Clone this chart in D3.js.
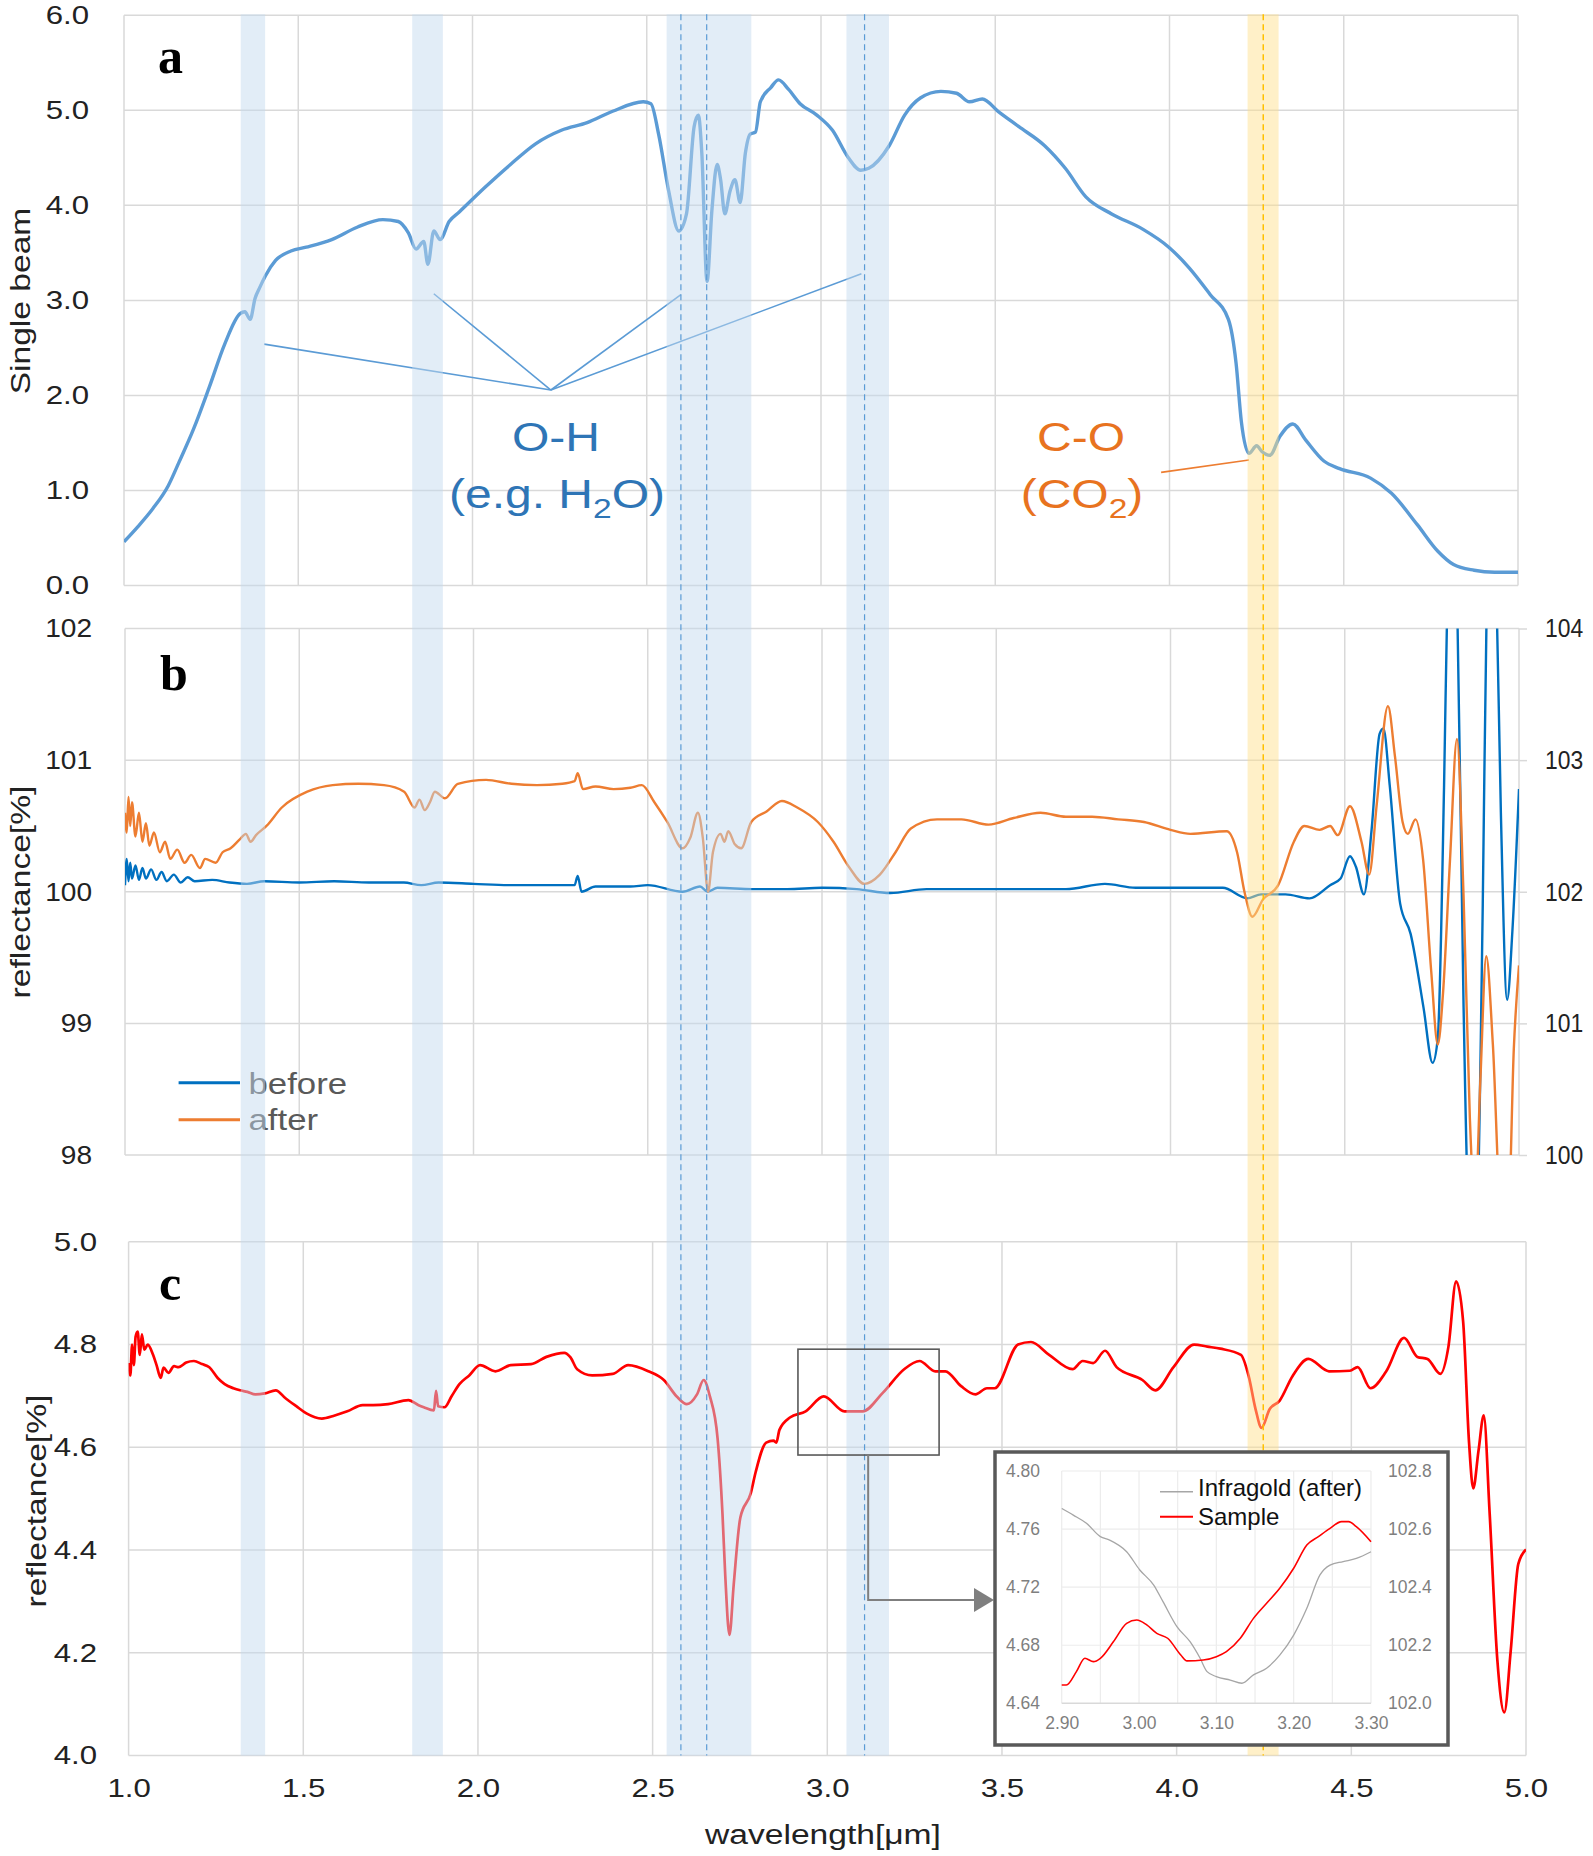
<!DOCTYPE html>
<html><head><meta charset="utf-8">
<script src="https://cdn.jsdelivr.net/npm/d3@7"></script>
<style>body{margin:0;background:#fff}svg{display:block}</style>
</head><body>
<svg id="chart" width="1593" height="1856"></svg>
<script>
// ---------------- DATA ----------------
const xTicks = [1.0,1.5,2.0,2.5,3.0,3.5,4.0,4.5,5.0];
const aTicks = [0,1,2,3,4,5,6];
const bTicksLeft = [98,99,100,101,102];
const bTicksRight = [100,101,102,103,104];
const cTicks = [4.0,4.2,4.4,4.6,4.8,5.0];
const insetXTicks = [2.90,3.00,3.10,3.20,3.30];
const insetXGrid = [2.90,2.95,3.00,3.05,3.10,3.15,3.20,3.25,3.30];
const insetYTicks = [4.64,4.68,4.72,4.76,4.80];
const insetY2Ticks = [102.0,102.2,102.4,102.6,102.8];

// absorption bands (µm)
const blueBands = [[1.335,1.405],[1.827,1.915],[2.557,2.80],[3.073,3.195]];
const yellowBands = [[4.224,4.313]];
const blueDash = [2.598,2.672,3.125];
const yellowDash = [4.269];

// panel a: single beam
const aWave = [1.000,1.04,1.083,1.127,1.157,1.2,1.245,1.289,1.333,1.347,1.362,1.376,1.39,1.406,1.435,1.479,1.523,1.596,1.669,1.743,1.787,1.816,1.838,1.86,1.872,1.889,1.907,1.933,1.962,2.036,2.109,2.182,2.255,2.329,2.402,2.49,2.512,2.534,2.563,2.592,2.614,2.636,2.648,2.658,2.673,2.687,2.702,2.712,2.724,2.739,2.753,2.768,2.783,2.797,2.812,2.826,2.856,2.878,2.907,2.94,2.988,3.033,3.077,3.114,3.137,3.196,3.24,3.285,3.344,3.389,3.426,3.463,3.508,3.567,3.641,3.701,3.76,3.834,3.923,3.998,4.057,4.117,4.169,4.191,4.206,4.228,4.25,4.265,4.288,4.317,4.354,4.391,4.443,4.488,4.577,4.637,4.711,4.77,4.815,4.874,4.933,5.0];
const aBeam = [0.46,0.62,0.81,1.05,1.29,1.65,2.09,2.54,2.86,2.88,2.80,3.02,3.14,3.26,3.42,3.52,3.56,3.64,3.77,3.85,3.83,3.71,3.54,3.62,3.38,3.73,3.64,3.83,3.93,4.19,4.43,4.65,4.79,4.87,4.99,5.09,5.07,4.75,4.15,3.73,3.91,4.83,4.95,4.55,3.2,3.95,4.43,4.27,3.91,4.15,4.27,4.03,4.55,4.75,4.77,5.09,5.24,5.32,5.22,5.07,4.95,4.79,4.51,4.37,4.39,4.63,4.95,5.13,5.20,5.18,5.09,5.12,4.99,4.83,4.63,4.39,4.09,3.91,3.75,3.56,3.34,3.06,2.80,2.34,1.73,1.39,1.47,1.41,1.37,1.57,1.70,1.53,1.31,1.23,1.13,0.97,0.64,0.36,0.22,0.16,0.14,0.14];

// panel b: before (left axis)
const bWaveBefore = [1.0,1.005,1.01,1.015,1.02,1.03,1.04,1.05,1.06,1.075,1.09,1.105,1.12,1.14,1.16,1.18,1.2,1.25,1.3,1.35,1.4,1.5,1.6,1.7,1.8,1.85,1.9,2.0,2.1,2.2,2.29,2.299,2.31,2.35,2.45,2.5,2.6,2.65,2.672,2.7,2.8,2.9,3.0,3.1,3.196,3.3,3.5,3.7,3.812,3.9,4.0,4.15,4.22,4.26,4.33,4.399,4.458,4.488,4.515,4.532,4.555,4.577,4.6,4.611,4.629,4.659,4.689,4.726,4.752,4.767,4.785,4.795,4.808,4.822,4.841,4.856,4.872,4.881,4.896,4.908,4.922,4.935,4.948,4.966,4.981,5.0];
const bBefore = [100.05,100.25,100.08,100.22,100.1,100.2,100.09,100.18,100.1,100.17,100.09,100.15,100.08,100.13,100.07,100.11,100.08,100.09,100.07,100.06,100.08,100.07,100.08,100.07,100.07,100.05,100.07,100.06,100.05,100.05,100.05,100.12,100.0,100.04,100.04,100.05,100.0,100.04,100.0,100.03,100.02,100.02,100.03,100.02,99.99,100.02,100.02,100.02,100.06,100.03,100.03,100.03,99.95,99.98,99.98,99.95,100.05,100.10,100.27,100.19,99.98,100.47,101.2,101.24,100.81,99.91,99.68,99.12,98.70,98.89,100.81,102.3,103,102.3,99.12,97.5,97.3,97.6,99.9,102.3,103,102.3,100.6,99.18,99.7,100.78];

// panel b: after (right axis)
const bWaveAfter = [1.0,1.005,1.01,1.015,1.02,1.03,1.04,1.05,1.06,1.07,1.083,1.1,1.115,1.13,1.15,1.171,1.19,1.215,1.23,1.26,1.28,1.303,1.33,1.347,1.36,1.376,1.406,1.45,1.523,1.596,1.669,1.743,1.801,1.831,1.845,1.86,1.875,1.889,1.918,1.955,2.036,2.109,2.182,2.255,2.29,2.299,2.314,2.35,2.402,2.45,2.483,2.519,2.556,2.6,2.622,2.644,2.658,2.673,2.687,2.709,2.72,2.731,2.75,2.768,2.797,2.841,2.885,2.929,2.988,3.033,3.077,3.122,3.166,3.211,3.255,3.33,3.4,3.478,3.55,3.627,3.7,3.775,3.85,3.924,4.0,4.057,4.161,4.191,4.213,4.235,4.265,4.309,4.354,4.384,4.428,4.458,4.48,4.515,4.548,4.57,4.592,4.624,4.644,4.666,4.681,4.703,4.725,4.748,4.767,4.782,4.802,4.822,4.841,4.859,4.874,4.889,4.906,4.925,4.948,4.97,4.985,5.0];
const bAfter = [102.6,102.45,102.72,102.5,102.68,102.42,102.6,102.38,102.52,102.35,102.45,102.3,102.38,102.25,102.32,102.22,102.28,102.18,102.25,102.22,102.3,102.33,102.4,102.44,102.38,102.43,102.50,102.64,102.76,102.81,102.82,102.81,102.76,102.64,102.70,102.62,102.68,102.76,102.71,102.82,102.85,102.82,102.81,102.82,102.84,102.9,102.78,102.8,102.78,102.79,102.81,102.68,102.53,102.33,102.41,102.60,102.41,102.0,102.3,102.44,102.38,102.46,102.36,102.33,102.53,102.61,102.69,102.64,102.53,102.38,102.19,102.06,102.13,102.3,102.48,102.55,102.55,102.51,102.56,102.6,102.57,102.57,102.55,102.53,102.47,102.44,102.46,102.3,101.99,101.81,101.94,102.05,102.38,102.5,102.47,102.5,102.43,102.65,102.38,102.13,102.67,103.41,103.03,102.53,102.44,102.55,102.24,101.4,100.84,101.23,102.24,103.16,101.96,100.28,99.6,100.56,101.51,100.84,99.6,99.6,100.8,101.44];

// panel c: sample reflectance
const cWave = [1.0,1.005,1.01,1.015,1.02,1.026,1.032,1.038,1.045,1.055,1.07,1.08,1.092,1.1,1.114,1.13,1.143,1.165,1.187,1.21,1.231,1.255,1.275,1.3,1.319,1.34,1.363,1.39,1.421,1.45,1.48,1.509,1.553,1.59,1.626,1.67,1.7,1.743,1.801,1.83,1.845,1.874,1.88,1.886,1.904,1.925,1.947,1.975,2.006,2.05,2.094,2.152,2.196,2.247,2.265,2.284,2.327,2.386,2.43,2.488,2.532,2.569,2.598,2.627,2.646,2.664,2.686,2.7,2.708,2.72,2.732,2.751,2.781,2.795,2.825,2.846,2.854,2.863,2.893,2.938,2.99,3.049,3.101,3.16,3.22,3.264,3.309,3.338,3.383,3.424,3.457,3.479,3.546,3.583,3.635,3.702,3.731,3.761,3.795,3.828,3.902,3.939,3.991,4.05,4.088,4.125,4.184,4.206,4.226,4.243,4.266,4.295,4.332,4.377,4.436,4.496,4.518,4.555,4.6,4.651,4.689,4.718,4.755,4.778,4.8,4.82,4.837,4.849,4.864,4.879,4.896,4.918,4.938,4.956,4.978,5.0];
const cRefl = [4.764,4.74,4.80,4.76,4.815,4.825,4.78,4.82,4.79,4.80,4.78,4.76,4.735,4.755,4.745,4.758,4.756,4.765,4.768,4.762,4.756,4.735,4.723,4.715,4.711,4.708,4.703,4.705,4.711,4.695,4.68,4.666,4.656,4.662,4.67,4.682,4.682,4.684,4.692,4.682,4.678,4.672,4.71,4.68,4.678,4.70,4.723,4.74,4.76,4.748,4.76,4.762,4.776,4.784,4.775,4.752,4.74,4.743,4.76,4.748,4.731,4.699,4.684,4.703,4.731,4.699,4.617,4.47,4.349,4.235,4.332,4.463,4.511,4.552,4.609,4.613,4.609,4.634,4.658,4.67,4.699,4.67,4.67,4.707,4.752,4.768,4.748,4.748,4.719,4.703,4.715,4.715,4.80,4.805,4.78,4.752,4.768,4.764,4.788,4.756,4.731,4.711,4.756,4.80,4.796,4.792,4.78,4.739,4.674,4.638,4.674,4.691,4.739,4.772,4.748,4.749,4.756,4.715,4.748,4.813,4.776,4.772,4.743,4.796,4.923,4.845,4.609,4.52,4.593,4.662,4.471,4.186,4.084,4.202,4.373,4.401];

// inset (2.9 - 3.3 µm)
const insetWave = [2.90,2.906,2.919,2.930,2.941,2.950,2.967,2.984,2.997,3.010,3.023,3.037,3.054,3.062,3.083,3.100,3.113,3.131,3.148,3.165,3.182,3.200,3.217,3.232,3.247,3.262,3.271,3.281,3.30];
const insetSample = [4.6526,4.6526,4.6618,4.671,4.6687,4.671,4.6825,4.6951,4.6974,4.694,4.6882,4.6848,4.6733,4.6692,4.6698,4.6721,4.6756,4.6848,4.6985,4.7089,4.7192,4.733,4.749,4.7548,4.7605,4.7651,4.7651,4.7617,4.7513];
const insetWaveGold = [2.90,2.915,2.932,2.950,2.962,2.984,3.001,3.019,3.031,3.049,3.066,3.079,3.088,3.100,3.118,3.133,3.148,3.165,3.182,3.200,3.217,3.234,3.247,3.264,3.281,3.30];
const insetGold = [102.671,102.648,102.62,102.574,102.562,102.522,102.459,102.407,102.35,102.264,102.212,102.155,102.109,102.092,102.08,102.069,102.098,102.121,102.166,102.235,102.327,102.442,102.476,102.488,102.499,102.522];
const zoomBoxWave = [2.916,3.32];
const zoomBoxRefl = [4.585,4.791];
const connectorWave = 3.117;

// ---------------- DRAW ----------------
const FONT = "'Liberation Sans', Arial, sans-serif";
const SX = 1.2;
const GRID = "#d9d9d9";
const svg = d3.select("#chart");
svg.append("rect").attr("width",1593).attr("height",1856).attr("fill","#fff");

const xA = d3.scaleLinear().domain([1,5]).range([124,1518]);
const yA = d3.scaleLinear().domain([0,6]).range([585.5,15.3]);
const xB = d3.scaleLinear().domain([1,5]).range([125,1519]);
const yB = d3.scaleLinear().domain([98,102]).range([1155,628.5]);
const yB2 = d3.scaleLinear().domain([100,104]).range([1155,628.5]);
const xC = d3.scaleLinear().domain([1,5]).range([128.6,1526]);
const yC = d3.scaleLinear().domain([4,5]).range([1755.6,1241.8]);

function grid(x, y, xs, ys, color, w){
  const g = svg.append("g");
  g.selectAll(null).data(xs).join("line")
    .attr("x1",d=>x(d)).attr("x2",d=>x(d)).attr("y1",y.range()[0]).attr("y2",y.range()[1])
    .attr("stroke",color).attr("stroke-width",w);
  g.selectAll(null).data(ys).join("line")
    .attr("x1",x.range()[0]).attr("x2",x.range()[1]).attr("y1",d=>y(d)).attr("y2",d=>y(d))
    .attr("stroke",color).attr("stroke-width",w);
  return g;
}
function clip(id, x, y){
  svg.append("clipPath").attr("id",id).append("rect")
    .attr("x",x.range()[0]).attr("y",y.range()[1])
    .attr("width",x.range()[1]-x.range()[0]).attr("height",y.range()[0]-y.range()[1]);
}
function series(xs, ys, x, y, color, w, clipId){
  const line = d3.line().x(i=>x(xs[i])).y(i=>y(ys[i])).curve(d3.curveMonotoneX);
  svg.append("path").attr("d", line(d3.range(xs.length)))
    .attr("fill","none").attr("stroke",color).attr("stroke-width",w)
    .attr("stroke-linejoin","round").attr("clip-path", clipId ? `url(#${clipId})` : null);
}
function styleAxis(g, size, fill, sx){
  g.select(".domain").remove();
  g.selectAll(".tick text").attr("font-family",FONT).attr("font-size",size).attr("fill",fill)
    .attr("transform",`scale(${sx},1)`);
}
function text(x, y, str, size, opts={}){
  const t = svg.append("text")
    .attr("transform",`translate(${x},${y})${opts.rotate?" rotate("+opts.rotate+")":""} scale(${opts.sx||SX},1)`)
    .attr("font-family",opts.family||FONT).attr("font-size",size)
    .attr("fill",opts.fill||"#222").attr("text-anchor",opts.anchor||"start")
    .attr("font-weight",opts.weight||"normal");
  if (opts.dy) t.attr("dy",opts.dy);
  if (str!==null) t.text(str);
  return t;
}

// grids
grid(xA, yA, xTicks, aTicks, GRID, 1.5);
grid(xB, yB, xTicks, bTicksLeft, GRID, 1.5);
grid(xC, yC, xTicks, cTicks, GRID, 1.5);

// axes
const fmt1 = d3.format(".1f");
svg.append("g").attr("transform",`translate(${xA.range()[0]},0)`)
  .call(d3.axisLeft(yA).tickValues(aTicks).tickSize(0).tickPadding(35/SX).tickFormat(fmt1))
  .call(g=>styleAxis(g,26,"#222",SX));
const SXB = 1.08, SXR = 0.88;
svg.append("g").attr("transform",`translate(${xB.range()[0]},0)`)
  .call(d3.axisLeft(yB).tickValues(bTicksLeft).tickSize(0).tickPadding(33/SXB).tickFormat(d3.format("d")))
  .call(g=>styleAxis(g,26,"#222",SXB));
const rAx = svg.append("g").attr("transform",`translate(${xB.range()[1]},0)`)
  .call(d3.axisRight(yB2).tickValues(bTicksRight).tickSize(8).tickPadding(26/SXR-8).tickFormat(d3.format("d")))
  .call(g=>styleAxis(g,26,"#222",SXR));
rAx.selectAll(".tick line").attr("stroke",GRID).attr("stroke-width",1.5);
svg.append("g").attr("transform",`translate(${xC.range()[0]},0)`)
  .call(d3.axisLeft(yC).tickValues(cTicks).tickSize(0).tickPadding(31.6/SX).tickFormat(fmt1))
  .call(g=>styleAxis(g,26,"#222",SX));
svg.append("g").attr("transform",`translate(0,${yC.range()[0]})`)
  .call(d3.axisBottom(xC).tickValues(xTicks).tickSize(0).tickPadding(23).tickFormat(fmt1))
  .call(g=>styleAxis(g,26,"#222",SX));

// axis titles
text(20, 301, "Single beam", 28, {rotate:-90, anchor:"middle", dy:"0.35em"});
text(20, 892, "reflectance[%]", 28, {rotate:-90, anchor:"middle", dy:"0.35em"});
text(36, 1501, "reflectance[%]", 28, {rotate:-90, anchor:"middle", dy:"0.35em"});
text(823, 1844, "wavelength[μm]", 28, {anchor:"middle"});

// panel labels
const serif = "'Liberation Serif','Times New Roman',serif";
text(158, 73, "a", 50, {family:serif, weight:"bold", fill:"#000", sx:1});
text(160, 690, "b", 50, {family:serif, weight:"bold", fill:"#000", sx:1});
text(159, 1300, "c", 50, {family:serif, weight:"bold", fill:"#000", sx:1});

// clip paths
clip("clipA", xA, yA); clip("clipB", xB, yB); clip("clipC", xC, yC);

// series
series(aWave, aBeam, xA, yA, "#5b9bd5", 3.4, "clipA");
series(bWaveBefore, bBefore, xB, yB, "#0070c0", 2.4, "clipB");
series(bWaveAfter, bAfter, xB, yB2, "#ed7d31", 2.4, "clipB");
series(cWave, cRefl, xC, yC, "#ff0000", 2.7, "clipC");

// annotations panel a
const ohApex = [2.225, 2.057];
const ohTargets = [[1.402,2.54],[1.889,3.07],[2.598,3.06],[3.116,3.28]];
svg.append("g").selectAll(null).data(ohTargets).join("line")
  .attr("x1",xA(ohApex[0])).attr("y1",yA(ohApex[1]))
  .attr("x2",d=>xA(d[0])).attr("y2",d=>yA(d[1]))
  .attr("stroke","#5b9bd5").attr("stroke-width",1.6);
const coLine = [[3.976,1.19],[4.228,1.32]];
svg.append("line").attr("x1",xA(coLine[0][0])).attr("y1",yA(coLine[0][1]))
  .attr("x2",xA(coLine[1][0])).attr("y2",yA(coLine[1][1]))
  .attr("stroke","#ed7d31").attr("stroke-width",1.6);

const OHC = "#2e75b6", COC = "#e8731f";
text(556, 451, "O-H", 40, {anchor:"middle", fill:OHC});
const t1 = text(557, 508, null, 40, {anchor:"middle", fill:OHC});
t1.append("tspan").text("(e.g. H");
t1.append("tspan").attr("font-size",28).attr("dy",10).text("2");
t1.append("tspan").attr("dy",-10).text("O)");
text(1081, 451, "C-O", 40, {anchor:"middle", fill:COC});
const t2 = text(1082, 508, null, 40, {anchor:"middle", fill:COC});
t2.append("tspan").text("(CO");
t2.append("tspan").attr("font-size",28).attr("dy",10).text("2");
t2.append("tspan").attr("dy",-10).text(")");

// legend panel b
const legB = [["before","#0070c0",1082.8,1094],["after","#ed7d31",1119.8,1130]];
legB.forEach(([name,col,ly,ty])=>{
  svg.append("line").attr("x1",178.6).attr("x2",240).attr("y1",ly).attr("y2",ly)
    .attr("stroke",col).attr("stroke-width",3);
  text(248.5, ty, name, 29, {fill:"#595959"});
});

// bands overlay
const bandTop = yA.range()[1]-1, bandBot = yC.range()[0];
svg.append("g").selectAll(null).data(blueBands).join("rect")
  .attr("x",d=>xA(d[0])).attr("width",d=>xA(d[1])-xA(d[0]))
  .attr("y",bandTop).attr("height",bandBot-bandTop)
  .attr("fill","rgb(194,217,238)").attr("fill-opacity",0.48);
svg.append("g").selectAll(null).data(yellowBands).join("rect")
  .attr("x",d=>xA(d[0])).attr("width",d=>xA(d[1])-xA(d[0]))
  .attr("y",bandTop).attr("height",bandBot-bandTop)
  .attr("fill","rgb(255,223,139)").attr("fill-opacity",0.48);
svg.append("g").selectAll(null).data(blueDash).join("line")
  .attr("x1",d=>xA(d)).attr("x2",d=>xA(d)).attr("y1",bandTop).attr("y2",bandBot)
  .attr("stroke","#5b9bd5").attr("stroke-width",1.2).attr("stroke-dasharray","6,4");
svg.append("g").selectAll(null).data(yellowDash).join("line")
  .attr("x1",d=>xA(d)).attr("x2",d=>xA(d)).attr("y1",bandTop).attr("y2",bandBot)
  .attr("stroke","#ffc000").attr("stroke-width",1.5).attr("stroke-dasharray","6,4");

// zoom rectangle in panel c + connector
svg.append("rect")
  .attr("x",xC(zoomBoxWave[0])).attr("y",yC(zoomBoxRefl[1]))
  .attr("width",xC(zoomBoxWave[1])-xC(zoomBoxWave[0]))
  .attr("height",yC(zoomBoxRefl[0])-yC(zoomBoxRefl[1]))
  .attr("fill","none").attr("stroke","#595959").attr("stroke-width",1.6);

// inset
const IB = {x:995, y:1452, w:453, h:293};
const connY = 1600;
svg.append("path")
  .attr("d",`M${xC(connectorWave)},${yC(zoomBoxRefl[0])}V${connY}H${IB.x-20}`)
  .attr("fill","none").attr("stroke","#7f7f7f").attr("stroke-width",2);
svg.append("path").attr("d",`M${IB.x-21},${connY-12}L${IB.x-1},${connY}L${IB.x-21},${connY+12}Z`)
  .attr("fill","#7f7f7f");

svg.append("rect").attr("x",IB.x).attr("y",IB.y).attr("width",IB.w).attr("height",IB.h)
  .attr("fill","#fff").attr("stroke","#595959").attr("stroke-width",3.5);
const xI = d3.scaleLinear().domain([2.9,3.3]).range([1061.7,1371]);
const yI = d3.scaleLinear().domain([4.64,4.80]).range([1703.3,1471]);
const yI2 = d3.scaleLinear().domain([102.0,102.8]).range([1703.3,1471]);
grid(xI, yI, insetXGrid, insetYTicks.slice(1), "#ececec", 1.2);
svg.append("line").attr("x1",xI.range()[0]).attr("x2",xI.range()[1])
  .attr("y1",yI(4.64)).attr("y2",yI(4.64)).attr("stroke",GRID).attr("stroke-width",1.5);
const IF = 17.5, IC = "#7f7f7f";
svg.append("g").attr("transform",`translate(${xI.range()[0]},0)`)
  .call(d3.axisLeft(yI).tickValues(insetYTicks).tickSize(0).tickPadding(21.7).tickFormat(d3.format(".2f")))
  .call(g=>styleAxis(g,IF,IC,1));
svg.append("g").attr("transform",`translate(${xI.range()[1]},0)`)
  .call(d3.axisRight(yI2).tickValues(insetY2Ticks).tickSize(0).tickPadding(17).tickFormat(d3.format(".1f")))
  .call(g=>styleAxis(g,IF,IC,1));
svg.append("g").attr("transform",`translate(0,${yI.range()[0]})`)
  .call(d3.axisBottom(xI).tickValues(insetXTicks).tickSize(0).tickPadding(13.7).tickFormat(d3.format(".2f")))
  .call(g=>styleAxis(g,IF,IC,1));
series(insetWaveGold, insetGold, xI, yI2, "#a6a6a6", 1.3, null);
series(insetWave, insetSample, xI, yI, "#ff0000", 1.6, null);
const legI = [["Infragold (after)","#a6a6a6",1491.7,1496,1.6],["Sample","#ff0000",1516.7,1525,2]];
legI.forEach(([name,col,ly,ty,w])=>{
  svg.append("line").attr("x1",1160).attr("x2",1193).attr("y1",ly).attr("y2",ly)
    .attr("stroke",col).attr("stroke-width",w);
  text(1198, ty, name, 24, {fill:"#111", sx:1});
});
</script>
</body></html>
